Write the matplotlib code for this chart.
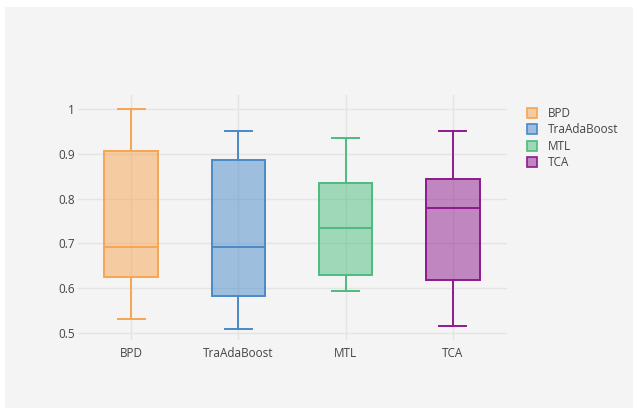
import matplotlib
matplotlib.use("Agg")
import matplotlib.pyplot as plt
from matplotlib.patches import Patch, Rectangle
from matplotlib.colors import to_rgba

# Five-number summaries for each method
methods = ["BPD", "TraAdaBoost", "MTL", "TCA"]
low_whisker = [0.532, 0.508, 0.593, 0.516]
q1 = [0.624, 0.583, 0.629, 0.618]
median = [0.693, 0.693, 0.734, 0.780]
q3 = [0.906, 0.886, 0.834, 0.843]
high_whisker = [1.000, 0.950, 0.936, 0.951]

colors = ["#f7a552", "#4a89c8", "#4cbb7f", "#8e1a8e"]
bg = "#f4f4f4"

plt.rcParams["font.family"] = ["Open Sans", "DejaVu Sans"]

fig = plt.figure(figsize=(6.33, 4.08), dpi=100, facecolor=bg)
# thin white margin along top and left edges
fig.patches.append(Rectangle((0, 1 - 7 / 408), 1, 7 / 408, transform=fig.transFigure,
                             facecolor="white", edgecolor="none", zorder=-1))
fig.patches.append(Rectangle((0, 0), 5 / 633, 1, transform=fig.transFigure,
                             facecolor="white", edgecolor="none", zorder=-1))

ax = fig.add_axes([77.5 / 633, (408 - 340) / 408, 429 / 633, 245 / 408])
ax.set_facecolor(bg)

stats = []
for i in range(len(methods)):
    stats.append({"label": methods[i], "whislo": low_whisker[i], "q1": q1[i],
                  "med": median[i], "q3": q3[i], "whishi": high_whisker[i]})

positions = list(range(len(methods)))
bp = ax.bxp(stats, positions=positions, widths=0.5, capwidths=0.25,
            showfliers=False, patch_artist=True)

lw = 1.4
for i, c in enumerate(colors):
    bp["boxes"][i].set_facecolor(to_rgba(c, 0.5))
    bp["boxes"][i].set_edgecolor(c)
    bp["boxes"][i].set_linewidth(lw)
    bp["medians"][i].set_color(c)
    bp["medians"][i].set_linewidth(lw)
    for j in (2 * i, 2 * i + 1):
        bp["whiskers"][j].set_color(c)
        bp["whiskers"][j].set_linewidth(lw)
        bp["caps"][j].set_color(c)
        bp["caps"][j].set_linewidth(lw)

ax.set_xlim(-0.5, 3.5)
ax.set_ylim(0.4844, 1.0312)
ax.set_yticks([0.5, 0.6, 0.7, 0.8, 0.9, 1.0])
ax.set_yticklabels(["0.5", "0.6", "0.7", "0.8", "0.9", "1"])
ax.set_xticks(positions)
ax.set_xticklabels(methods)
ax.grid(True, color="#e4e4e4", linewidth=1)
ax.set_axisbelow(True)
for s in ax.spines.values():
    s.set_visible(False)
ax.tick_params(length=0, labelsize=8.5, colors="#444444")
ax.tick_params(axis="x", pad=5)
ax.tick_params(axis="y", pad=2)

handles = [Patch(facecolor=to_rgba(c, 0.5), edgecolor=c, linewidth=1.2) for c in colors]
leg = fig.legend(handles, methods, loc="upper left", bbox_to_anchor=(522 / 633, 1 - 102 / 408),
                 frameon=False, fontsize=8.5, handlelength=0.9, handleheight=0.9,
                 handletextpad=0.9, labelspacing=0.3, borderaxespad=0)
for t in leg.get_texts():
    t.set_color("#444444")

fig.savefig("out.png", dpi=100, facecolor=bg)
